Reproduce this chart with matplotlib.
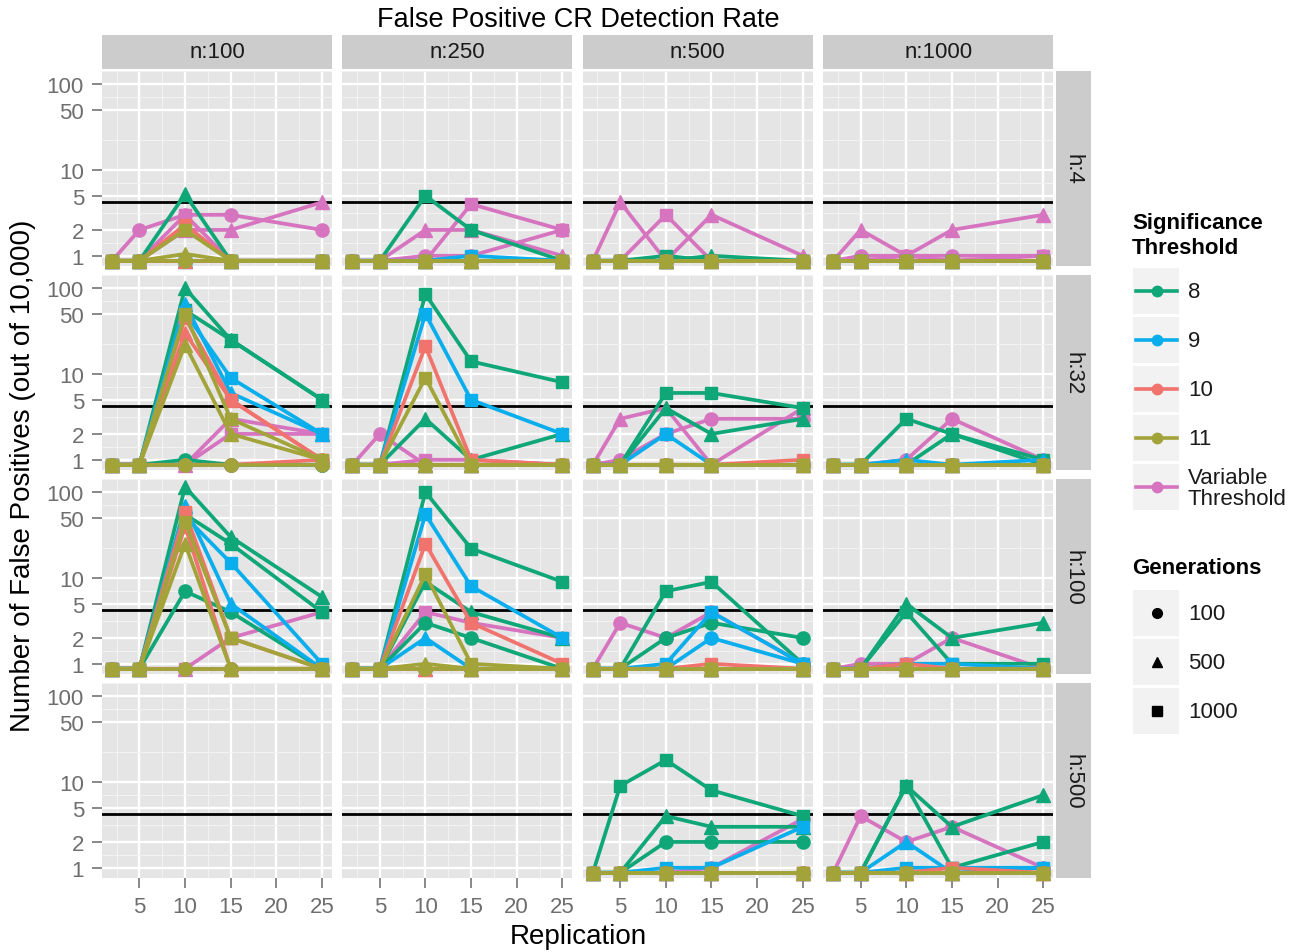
import numpy as np
import matplotlib
matplotlib.use('Agg')
import matplotlib.pyplot as plt
from matplotlib.patches import Rectangle
from matplotlib.lines import Line2D
from matplotlib.ticker import FixedLocator, NullFormatter

plt.rcParams['font.family'] = ['Liberation Sans', 'DejaVu Sans']

# --- DATA ---
replications = [2, 5, 10, 15, 25]
n_levels = ['n:100', 'n:250', 'n:500', 'n:1000']
h_levels = ['h:4', 'h:32', 'h:100', 'h:500']
thresholds = ['8', '9', '10', '11', 'V']
threshold_labels = ['8', '9', '10', '11', 'Variable\nThreshold']
generations = [100, 500, 1000]
y_breaks = [1, 2, 5, 10, 50, 100]
cutoff = 4.26  # black reference line

# number of false positives per (threshold, generations); missing series are all zero
h4_n100 = {
    ('8', 500): [0, 0, 5.2, 0, 0],
    ('V', 100): [0, 2, 3, 3, 2],
    ('V', 500): [0, 0, 2, 2, 4.2],
    ('V', 1000): [0, 0, 3, 0, 0],
    ('10', 1000): [0, 0, 2.3, 0, 0],
    ('11', 1000): [0, 0, 2, 0, 0],
    ('11', 500): [0, 0, 1.05, 0, 0],
}
h4_n250 = {
    ('8', 1000): [0, 0, 5, 2, 0],
    ('V', 1000): [0, 0, 0, 4, 2],
    ('V', 500): [0, 0, 2, 2, 1],
    ('V', 100): [0, 0, 1, 1, 2],
    ('9', 1000): [0, 0, 0, 1, 0],
}
h4_n500 = {
    ('V', 500): [0, 4.2, 0, 3, 1],
    ('V', 1000): [0, 0, 3, 0, 0],
    ('8', 1000): [0, 0, 1, 0, 0],
    ('8', 500): [0, 0, 0, 1, 0],
}
h4_n1000 = {
    ('V', 500): [0, 2, 1, 2, 3],
    ('V', 100): [0, 1, 1, 1, 1],
    ('V', 1000): [0, 0, 1, 0, 1],
}
h32_n100 = {
    ('8', 500): [0, 0, 100, 25, 5],
    ('8', 1000): [0, 0, 55, 25, 5],
    ('8', 100): [0, 0, 1, 0, 0],
    ('9', 500): [0, 0, 65, 6, 2],
    ('9', 1000): [0, 0, 52, 9, 2],
    ('10', 500): [0, 0, 30, 5, 1],
    ('10', 1000): [0, 0, 45, 5, 1],
    ('10', 100): [0, 0, 0, 0, 1],
    ('V', 500): [0, 0, 0, 3, 2],
    ('V', 1000): [0, 0, 0, 2, 2],
    ('11', 1000): [0, 0, 50, 3, 1],
    ('11', 500): [0, 0, 22, 2, 1],
}
h32_n250 = {
    ('8', 1000): [0, 0, 85, 14, 8],
    ('9', 1000): [0, 0, 50, 5, 2],
    ('10', 1000): [0, 0, 21, 1, 0],
    ('11', 1000): [0, 0, 9, 0, 0],
    ('8', 500): [0, 0, 3, 1, 2],
    ('V', 100): [0, 2, 0, 0, 0],
    ('V', 1000): [0, 0, 1, 1, 0],
}
h32_n500 = {
    ('8', 1000): [0, 0, 6, 6, 4],
    ('8', 500): [0, 0, 4, 2, 3],
    ('V', 500): [0, 3, 4, 0, 4],
    ('V', 100): [0, 1, 2, 3, 3],
    ('9', 1000): [0, 0, 2, 0, 0],
    ('10', 1000): [0, 0, 0, 0, 1],
}
h32_n1000 = {
    ('8', 1000): [0, 0, 3, 2, 1],
    ('8', 500): [0, 0, 0, 2, 0],
    ('V', 100): [0, 0, 1, 3, 1],
    ('9', 500): [0, 0, 1, 0, 1],
}
h100_n100 = {
    ('8', 500): [0, 0, 115, 30, 6],
    ('8', 1000): [0, 0, 55, 25, 4],
    ('8', 100): [0, 0, 7, 4, 0],
    ('9', 500): [0, 0, 68, 5, 0],
    ('9', 1000): [0, 0, 52, 15, 1],
    ('10', 1000): [0, 0, 58, 2, 0],
    ('10', 500): [0, 0, 40, 0, 0],
    ('V', 1000): [0, 0, 0, 2, 4],
    ('11', 1000): [0, 0, 45, 2, 0],
    ('11', 500): [0, 0, 25, 0, 0],
}
h100_n250 = {
    ('8', 1000): [0, 0, 100, 22, 9],
    ('9', 1000): [0, 0, 55, 8, 2],
    ('10', 1000): [0, 0, 25, 3, 1],
    ('11', 1000): [0, 0, 11, 1, 0],
    ('8', 500): [0, 0, 9, 4, 2],
    ('V', 1000): [0, 0, 4, 3, 2],
    ('8', 100): [0, 0, 3, 2, 0],
    ('9', 500): [0, 0, 2, 0, 0],
    ('11', 500): [0, 0, 1, 0, 0],
}
h100_n500 = {
    ('8', 1000): [0, 0, 7, 9, 1],
    ('9', 1000): [0, 0, 1, 4, 1],
    ('8', 100): [0, 0, 2, 3, 2],
    ('9', 100): [0, 0, 0, 2, 1],
    ('V', 100): [0, 3, 2, 4, 1],
    ('10', 1000): [0, 0, 0, 1, 0],
}
h100_n1000 = {
    ('8', 500): [0, 0, 5, 2, 3],
    ('8', 1000): [0, 0, 4, 1, 1],
    ('V', 100): [0, 1, 1, 2, 0],
    ('10', 1000): [0, 0, 1, 0, 0],
    ('9', 1000): [0, 0, 1, 1, 0],
}
h500_n500 = {
    ('8', 1000): [0, 9, 18, 8, 4],
    ('8', 500): [0, 0, 4, 3, 3],
    ('8', 100): [0, 0, 2, 2, 2],
    ('9', 1000): [0, 0, 1, 1, 3],
    ('V', 100): [0, 0, 0, 1, 3.7],
}
h500_n1000 = {
    ('V', 100): [0, 4, 2, 3, 1],
    ('8', 1000): [0, 0, 9, 1, 2],
    ('8', 500): [0, 0, 9, 3, 7],
    ('9', 500): [0, 0, 2, 0, 1],
    ('9', 1000): [0, 0, 1, 1, 1],
    ('10', 1000): [0, 0, 0, 1, 0],
}

panels = {
    ('h:4', 'n:100'): h4_n100, ('h:4', 'n:250'): h4_n250,
    ('h:4', 'n:500'): h4_n500, ('h:4', 'n:1000'): h4_n1000,
    ('h:32', 'n:100'): h32_n100, ('h:32', 'n:250'): h32_n250,
    ('h:32', 'n:500'): h32_n500, ('h:32', 'n:1000'): h32_n1000,
    ('h:100', 'n:100'): h100_n100, ('h:100', 'n:250'): h100_n250,
    ('h:100', 'n:500'): h100_n500, ('h:100', 'n:1000'): h100_n1000,
    ('h:500', 'n:500'): h500_n500, ('h:500', 'n:1000'): h500_n1000,
}

# --- STYLE ---
colors = {'8': '#0FA678', '9': '#0BAEEC', '10': '#F0736E', '11': '#A2A43A', 'V': '#D674C0'}
markers = {100: 'o', 500: '^', 1000: 's'}
msizes = {100: 9.5, 500: 10.5, 1000: 8.5}
draw_order = ['V', '8', '9', '10', '11']
zero_pos = 0.875   # where zero counts sit on the log axis

W, H = 1301, 953
fig = plt.figure(figsize=(W / 100, H / 100), dpi=100)


def px_axes(left, top, width, height):
    return fig.add_axes([left / W, 1 - (top + height) / H, width / W, height / H])


col_left = [102 + 240.4 * j for j in range(4)]
row_top = [72 + 204 * i for i in range(4)]
pw, ph = 230, 195
minor_y = [np.sqrt(a * b) for a, b in zip([0.5] + y_breaks, y_breaks + [200])]

for i, h in enumerate(h_levels):
    for j, n in enumerate(n_levels):
        ax = px_axes(col_left[j], row_top[i], pw, ph)
        ax.set_facecolor('#E5E5E5')
        ax.set_yscale('log')
        ax.set_xlim(0.9, 26.1)
        ax.set_ylim(0.76, 142)
        for s in ax.spines.values():
            s.set_visible(False)
        ax.xaxis.set_major_locator(FixedLocator([5, 10, 15, 20, 25]))
        ax.xaxis.set_minor_locator(FixedLocator([2.5, 7.5, 12.5, 17.5, 22.5]))
        ax.yaxis.set_major_locator(FixedLocator(y_breaks))
        ax.yaxis.set_minor_locator(FixedLocator(minor_y))
        ax.yaxis.set_minor_formatter(NullFormatter())
        ax.grid(which='major', color='white', lw=1.7)
        ax.grid(which='minor', color='#F2F2F2', lw=0.8)
        ax.set_axisbelow(True)
        ax.tick_params(which='minor', length=0)
        ax.tick_params(which='major', length=7, width=1.3, color='#7F7F7F',
                       labelcolor='#6E6E6E', labelsize=16, pad=6)
        if j == 0:
            ax.set_yticklabels([str(b) for b in y_breaks])
        else:
            ax.tick_params(axis='y', length=0, labelleft=False)
        if i == 3:
            ax.set_xticklabels(['5', '10', '15', '20', '25'])
        else:
            ax.tick_params(axis='x', length=0, labelbottom=False)

        ax.axhline(cutoff, color='black', lw=2.0, zorder=2)

        data = panels.get((h, n))
        if data is not None:
            for thr in draw_order:
                for g in generations:
                    vals = np.array(data.get((thr, g), [0] * len(replications)), dtype=float)
                    vals = np.where(vals == 0, zero_pos, vals)
                    ax.plot(replications, vals, color=colors[thr], lw=2.7,
                            marker=markers[g], ms=msizes[g], zorder=3, clip_on=False)

        # facet strips
        if i == 0:
            st = px_axes(col_left[j], 36, pw, 34)
            st.set_facecolor('#CCCCCC')
            st.set_xticks([]); st.set_yticks([])
            for s in st.spines.values():
                s.set_visible(False)
            st.text(0.5, 0.5, n, ha='center', va='center', fontsize=16, color='#1A1A1A',
                    transform=st.transAxes)
        if j == 3:
            st = px_axes(1055.5, row_top[i], 35, ph)
            st.set_facecolor('#CCCCCC')
            st.set_xticks([]); st.set_yticks([])
            for s in st.spines.values():
                s.set_visible(False)
            st.text(0.5, 0.5, h, ha='center', va='center', fontsize=16, color='#1A1A1A',
                    rotation=-90, transform=st.transAxes)

# titles
fig.text(578 / W, 1 - 20 / H, 'False Positive CR Detection Rate', ha='center', va='center',
         fontsize=19.5)
fig.text(578 / W, 1 - 937 / H, 'Replication', ha='center', va='center', fontsize=20)
fig.text(23 / W, 1 - 476 / H, 'Number of False Positives (out of 10,000)', ha='center',
         va='center', rotation=90, fontsize=20)

# --- LEGEND (drawn by hand, ggplot style) ---
lg = fig.add_axes([0, 0, 1, 1])
lg.set_xlim(0, W)
lg.set_ylim(H, 0)
lg.axis('off')

lg.text(1132, 223, 'Significance', fontsize=16, weight='bold', va='center')
lg.text(1132, 248, 'Threshold', fontsize=16, weight='bold', va='center')
for k, (thr, lab) in enumerate(zip(thresholds, threshold_labels)):
    cy = 292 + 49 * k
    lg.add_patch(Rectangle((1133, cy - 23), 46, 46, fc='#F2F2F2', ec='none'))
    lg.add_line(Line2D([1136, 1177], [cy, cy], color=colors[thr], lw=2.6))
    lg.plot([1156.5], [cy], 'o', color=colors[thr], ms=7.5)
    lg.text(1188, cy + 1, lab, fontsize=16, va='center', color='#1A1A1A', linespacing=1.05)

lg.text(1132, 569, 'Generations', fontsize=16, weight='bold', va='center')
for k, g in enumerate(generations):
    cy = 614 + 49 * k
    lg.add_patch(Rectangle((1133, cy - 23), 46, 46, fc='#F2F2F2', ec='none'))
    lg.plot([1156.5], [cy], markers[g], color='black', ms=7)
    lg.text(1188, cy + 1, str(g), fontsize=16, va='center', color='#1A1A1A')

fig.savefig('out.png', dpi=100)
